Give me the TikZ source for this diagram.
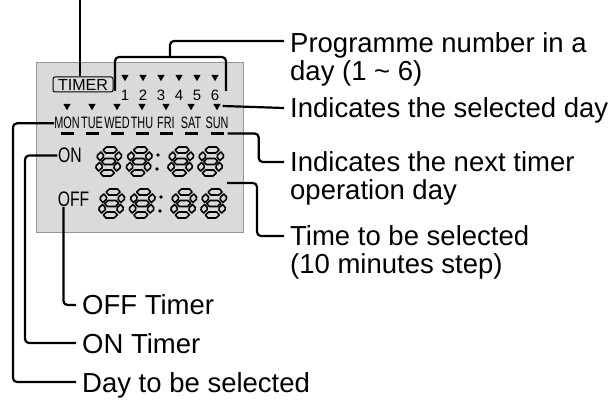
\documentclass[tikz,border=0pt]{standalone}
\usepackage{fontspec}
\usepackage{xcolor}
\usepackage{tikz}
\usetikzlibrary{shapes.geometric, positioning, calc}
\setmainfont{Liberation Sans}
\newfontfamily\lcdnarrow[FakeStretch=0.66]{Liberation Sans}
\newfontfamily\lcdmid[FakeStretch=0.75]{Liberation Sans}
\definecolor{lcdgray}{RGB}{218,218,218}
\definecolor{lcdedge}{RGB}{150,150,150}
\tikzset{
    panel/.style={rectangle, draw=lcdedge, fill=lcdgray, line width=0.8pt,
                  minimum width=207, minimum height=170, inner sep=0},
    timerbox/.style={rectangle, draw, rounded corners=2, line width=1pt, minimum width=60,
                     minimum height=15, inner sep=0, font=\fontsize{16}{16}\selectfont},
    tri/.style={regular polygon, regular polygon sides=3, shape border rotate=180,
                fill=black, minimum size=8.5, inner sep=0},
    dashbar/.style={rectangle, fill=black, minimum width=13, minimum height=3, inner sep=0},
    prognum/.style={anchor=base, inner sep=0, font=\fontsize{15}{15}\selectfont},
    daytxt/.style={anchor=base, inner sep=0, font=\lcdnarrow\fontsize{16.5}{17}\selectfont},
    onoff/.style={inner sep=0.5, font=\lcdmid\fontsize{21}{21}\selectfont},
    colon/.style={circle, fill=black, minimum size=3.8, inner sep=0},
    seg/.style={draw=black, fill=lcdgray, line width=1.6pt, line join=round},
    lbl/.style={anchor=base west, align=left, inner sep=0, font=\fontsize{27.5}{28}\selectfont},
    leader/.style={line width=2.2pt, rounded corners=4}
}
% one italic seven-segment eight, top left corner at #1
\newcommand{\lcdeight}[1]{%
  \begin{scope}[shift={#1}, xslant=0.12]
    \draw[seg] (5,3)--(8,0)--(16,0)--(19,3)--(16,6)--(8,6)--cycle;
    \draw[seg] (5,14.5)--(8,11.5)--(16,11.5)--(19,14.5)--(16,17.5)--(8,17.5)--cycle;
    \draw[seg] (5,26)--(8,23)--(16,23)--(19,26)--(16,29)--(8,29)--cycle;
    \draw[seg] (3,5)--(6,8)--(6,10.5)--(3,13.5)--(0,10.5)--(0,8)--cycle;
    \draw[seg] (3,15.5)--(6,18.5)--(6,21)--(3,24)--(0,21)--(0,18.5)--cycle;
    \draw[seg] (21,5)--(24,8)--(24,10.5)--(21,13.5)--(18,10.5)--(18,8)--cycle;
    \draw[seg] (21,15.5)--(24,18.5)--(24,21)--(21,24)--(18,21)--(18,18.5)--cycle;
  \end{scope}}

\begin{document}
\begin{tikzpicture}[x=1pt, y=-1pt]
    \useasboundingbox (0,0) rectangle (614,401);

    % Display
    \node[panel] (lcd) at (139.5,147) {};
    \node[timerbox] (timer) at (83,84.5) {TIMER};

    % Programme numbers
    \node[tri] (pt1) at (125,77) {};
    \node[tri] (pt2) at (143,77) {};
    \node[tri] (pt3) at (161,77) {};
    \node[tri] (pt4) at (179,77) {};
    \node[tri] (pt5) at (197,77) {};
    \node[tri] (pt6) at (215,77) {};
    \node[prognum] (n1) at (125,101) {1};
    \node[prognum] (n2) at (143,101) {2};
    \node[prognum] (n3) at (161,101) {3};
    \node[prognum] (n4) at (179,101) {4};
    \node[prognum] (n5) at (197,101) {5};
    \node[prognum] (n6) at (215,101) {6};

    % Days
    \node[tri] (dt1) at (67,106) {};
    \node[tri] (dt2) at (92,106) {};
    \node[tri] (dt3) at (117,106) {};
    \node[tri] (dt4) at (142,106) {};
    \node[tri] (dt5) at (166,106) {};
    \node[tri] (dt6) at (191,106) {};
    \node[tri] (dt7) at (217,106) {};
    \node[daytxt] (mon) at (67,129) {MON};
    \node[daytxt] (tue) at (92,129) {TUE};
    \node[daytxt] (wed) at (117,129) {WED};
    \node[daytxt] (thu) at (142,129) {THU};
    \node[daytxt] (fri) at (166,129) {FRI};
    \node[daytxt] (sat) at (191,129) {SAT};
    \node[daytxt] (sun) at (217,129) {SUN};
    \node[dashbar] (ds1) at (67,133.5) {};
    \node[dashbar] (ds2) at (92,133.5) {};
    \node[dashbar] (ds3) at (117,133.5) {};
    \node[dashbar] (ds4) at (142,133.5) {};
    \node[dashbar] (ds5) at (166,133.5) {};
    \node[dashbar] (ds6) at (191,133.5) {};
    \node[dashbar] (ds7) at (217,133.5) {};

    % Times
    \node[onoff] (on) at (70,155.5) {ON};
    \node[onoff] (off) at (73.5,199) {OFF};
    \lcdeight{(98.5,147)}
    \lcdeight{(129,147)}
    \lcdeight{(170.5,147)}
    \lcdeight{(200.5,147)}
    \node[colon] (c1) at (158,155) {};
    \node[colon] (c2) at (157,169) {};
    \lcdeight{(101.5,189)}
    \lcdeight{(132,189)}
    \lcdeight{(173.5,189)}
    \lcdeight{(203.5,189)}
    \node[colon] (c3) at (161,197) {};
    \node[colon] (c4) at (160,211) {};

    % Labels
    \node[lbl] (prog) at (290,81) {Programme number in a\\day (1 \textasciitilde{} 6)};
    \node[lbl] (selday) at (290,118) {Indicates the selected day};
    \node[lbl] (nextday) at (290,200) {Indicates the next timer\\operation day};
    \node[lbl] (timesel) at (290,273) {Time to be selected\\(10 minutes step)};
    \node[lbl] (offtmr) at (82,315) {OFF Timer};
    \node[lbl] (ontmr) at (82,353) {ON Timer};
    \node[lbl] (daysel) at (82,392) {Day to be selected};

    % Leaders
    \coordinate (ttop) at (80,0);
    \coordinate (bl) at (115,91);
    \coordinate (br) at (226,91);
    \coordinate (btop) at (170,57);
    \coordinate (tsel) at (227,183);
    \draw[leader] (ttop) -- (ttop |- timer.north);
    \draw[leader] (bl) |- (btop) -| (br);
    \draw[leader] (btop) |- ($(prog.base west)+(-6,-40)$);
    \draw[leader] ([xshift=3]dt7.east) -- ($(selday.base west)+(-6,-10)$);
    \draw[leader] ([xshift=4]ds7.east) -- ++(31,0) |- ($(nextday.base west)+(-6,-38)$);
    \draw[leader] (tsel) -- ++(30,0) |- ($(timesel.base west)+(-6,-37)$);
    \draw[leader] ([xshift=-10]off.south) |- ($(offtmr.base west)+(-6,-10)$);
    \draw[leader] (on.west) -| ($(ontmr.base west)+(-57,-10)$) -- ($(ontmr.base west)+(-6,-10)$);
    \draw[leader] (mon.west) -| ($(daysel.base west)+(-69,-10)$) -- ($(daysel.base west)+(-6,-10)$);
\end{tikzpicture}
\end{document}
